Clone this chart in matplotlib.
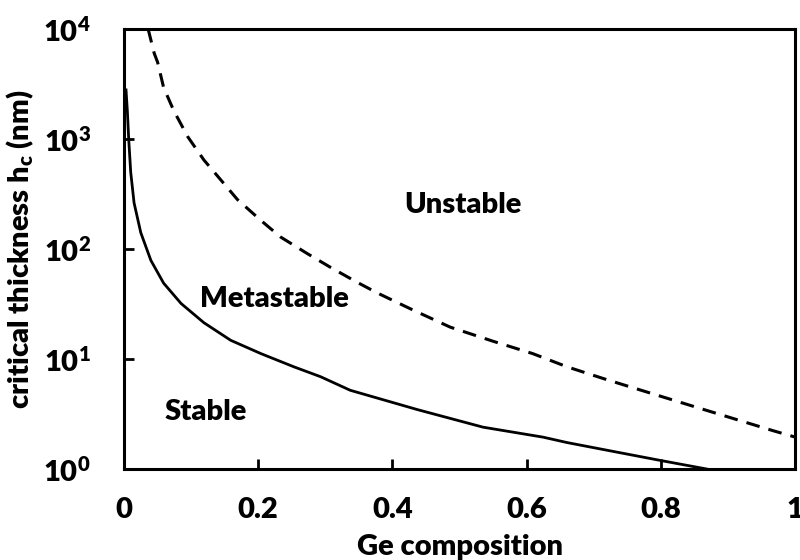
import matplotlib

matplotlib.use("Agg")
import matplotlib.pyplot as plt

# Ge composition vs critical thickness (nm)
# solid line: stable / metastable boundary
x_meta = [0.003, 0.005, 0.007, 0.010, 0.015, 0.025, 0.040, 0.059, 0.085,
          0.119, 0.159, 0.204, 0.253, 0.293, 0.337, 0.437, 0.535, 0.624,
          0.66, 0.72, 0.798, 0.868]
h_meta = [2800, 1800, 1000, 500, 263, 141, 79, 49, 32,
          21.4, 14.8, 11.2, 8.5, 6.9, 5.2, 3.47, 2.4, 1.95,
          1.74, 1.48, 1.2, 1.0]

# dashed line: metastable / unstable boundary
x_stab = [0.036, 0.045, 0.050, 0.059, 0.074, 0.095, 0.119, 0.144, 0.169,
          0.204, 0.233, 0.273, 0.308, 0.347, 0.377, 0.43, 0.486, 0.55,
          0.609, 0.66, 0.719, 0.843, 0.966, 1.0]
h_stab = [10000, 6030, 5010, 2950, 1820, 1050, 646, 427, 282,
          182, 129, 91, 68, 50, 40, 28, 19.5, 14.5,
          11.2, 8.5, 6.5, 3.8, 2.24, 1.95]

x_ticks = [0, 0.2, 0.4, 0.6, 0.8, 1]
x_labels = ["0", "0.2", "0.4", "0.6", "0.8", "1"]
y_ticks = [1, 10, 100, 1000, 10000]
y_labels = ["$10^{0}$", "$10^{1}$", "$10^{2}$", "$10^{3}$", "$10^{4}$"]

plt.rcParams["font.family"] = ["Lato", "DejaVu Sans"]
plt.rcParams["font.weight"] = "heavy"
plt.rcParams["mathtext.fontset"] = "custom"
plt.rcParams["mathtext.rm"] = "Lato:heavy"
plt.rcParams["mathtext.it"] = "Lato:heavy"
plt.rcParams["mathtext.bf"] = "Lato:heavy"

fs = 21

fig = plt.figure(figsize=(8, 5.6), dpi=100)
ax = fig.add_axes([0.155, 0.1625, 0.839, 0.7855])

ax.plot(x_meta, h_meta, color="black", lw=2.0)
ax.plot(x_stab, h_stab, color="black", lw=2.2, dashes=(4.5, 3))

ax.set_yscale("log")
ax.set_xlim(0, 1)
ax.set_ylim(1, 10000)
ax.set_xticks(x_ticks)
ax.set_xticklabels(x_labels)
ax.set_yticks(y_ticks)
ax.set_yticklabels(y_labels)
ax.minorticks_off()
ax.tick_params(direction="in", length=7, width=2, labelsize=fs)
ax.tick_params(axis="y", pad=24)
ax.tick_params(axis="x", pad=20)
for s in ax.spines.values():
    s.set_linewidth(2.2)

ax.set_xlabel("Ge composition", fontsize=fs, fontweight="heavy")
ax.xaxis.set_label_coords(0.5, -0.148)
ax.xaxis.label.set_va("top")
ax.set_ylabel("critical thickness h$_{c}$ (nm)", fontsize=fs, fontweight="heavy")
ax.yaxis.set_label_coords(-0.131, 0.5)

ax.text(0.505, 250, "Unstable", fontsize=fs, fontweight="heavy", ha="center", va="center")
ax.text(0.224, 35, "Metastable", fontsize=fs, fontweight="heavy", ha="center", va="center")
ax.text(0.122, 3.3, "Stable", fontsize=fs, fontweight="heavy", ha="center", va="center")

fig.savefig("out.png", dpi=100)
plt.close(fig)
